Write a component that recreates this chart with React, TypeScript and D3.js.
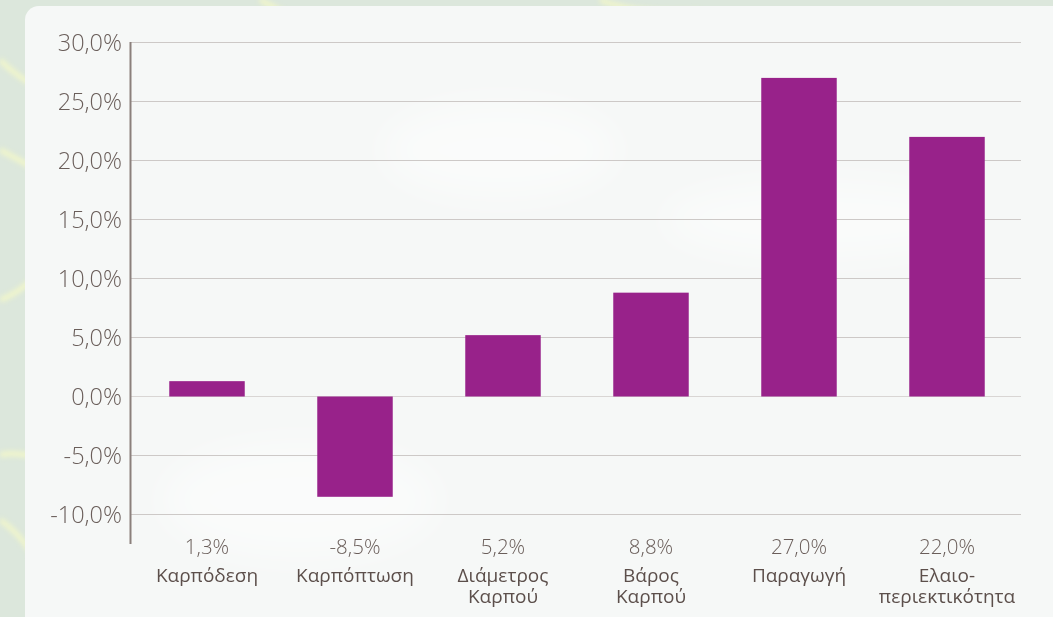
import React, { useEffect, useRef } from "react";
import * as d3 from "d3";

const categories: string[][] = [
  ["Καρπόδεση"],
  ["Καρπόπτωση"],
  ["Διάμετρος", "Καρπού"],
  ["Βάρος", "Καρπού"],
  ["Παραγωγή"],
  ["Ελαιο-", "περιεκτικότητα"],
];
const values: number[] = [1.3, -8.5, 5.2, 8.8, 27.0, 22.0];
const valueLabels: string[] = ["1,3%", "-8,5%", "5,2%", "8,8%", "27,0%", "22,0%"];
const yTicks: number[] = [-10, -5, 0, 5, 10, 15, 20, 25, 30];

const W = 1053;
const H = 617;

export default function App() {
  const ref = useRef<SVGSVGElement | null>(null);

  useEffect(() => {
    const svg = d3.select(ref.current);
    svg.selectAll("*").remove();

    const defs = svg.append("defs");
    const blur = defs.append("filter").attr("id", "blur").attr("x", "-50%").attr("y", "-50%").attr("width", "200%").attr("height", "200%");
    blur.append("feGaussianBlur").attr("stdDeviation", 2.5);
    const blur2 = defs.append("filter").attr("id", "blur2").attr("x", "-50%").attr("y", "-50%").attr("width", "200%").attr("height", "200%");
    blur2.append("feGaussianBlur").attr("stdDeviation", 18);

    // background
    svg.append("rect").attr("width", W).attr("height", H).attr("fill", "#dce7dc");
    const streaks = [
      "M0,150 C40,170 80,200 120,190",
      "M0,300 C30,290 60,250 90,230",
      "M0,455 C20,450 50,460 80,470",
      "M0,520 C30,540 50,580 60,617",
      "M260,0 C280,10 300,20 320,40",
      "M600,0 C620,8 650,14 700,12",
      "M0,60 C20,80 40,90 70,100",
    ];
    svg.append("g").attr("filter", "url(#blur)")
      .selectAll("path").data(streaks).join("path")
      .attr("d", (d) => d)
      .attr("fill", "none")
      .attr("stroke", "#f4f8c8")
      .attr("stroke-width", 5)
      .attr("opacity", 0.9);

    // panel
    svg.append("rect")
      .attr("x", 25).attr("y", 6)
      .attr("width", W).attr("height", H + 20)
      .attr("rx", 14)
      .attr("fill", "#f6f8f7");
    svg.append("g").attr("filter", "url(#blur2)")
      .selectAll("ellipse")
      .data([[300, 500, 140, 60], [820, 220, 160, 40], [500, 150, 120, 50]])
      .join("ellipse")
      .attr("cx", (d) => d[0]).attr("cy", (d) => d[1])
      .attr("rx", (d) => d[2]).attr("ry", (d) => d[3])
      .attr("fill", "#ffffff").attr("opacity", 0.45);

    const x = d3.scaleBand<number>()
      .domain(d3.range(values.length))
      .range([133, 1021])
      .paddingInner(0.49)
      .paddingOuter(0.245);
    const y = d3.scaleLinear().domain([-10, 30]).range([514.5, 42.5]);

    // gridlines
    svg.append("g")
      .selectAll("line").data(yTicks).join("line")
      .attr("x1", 131).attr("x2", 1021)
      .attr("y1", (d) => y(d)).attr("y2", (d) => y(d))
      .attr("stroke", (d) => (d === 0 ? "#d9d6d4" : "#cdc9c7"))
      .attr("stroke-width", 1.2);

    // axis line
    svg.append("line")
      .attr("x1", 130.5).attr("x2", 130.5)
      .attr("y1", 42).attr("y2", 544)
      .attr("stroke", "#8b807c").attr("stroke-width", 2);

    const font = "'Open Sans', 'Noto Sans', sans-serif";

    // y tick labels
    svg.append("g")
      .selectAll("text").data(yTicks).join("text")
      .attr("x", 122)
      .attr("y", (d) => y(d) + 8.5)
      .attr("text-anchor", "end")
      .attr("font-family", font)
      .attr("font-weight", 300)
      .attr("font-size", 23.5)
      .attr("fill", "#6a5e5a")
      .text((d) => d3.format(".1f")(d).replace(".", ",").replace("−", "-") + "%");

    // bars
    svg.append("g")
      .selectAll("rect").data(values).join("rect")
      .attr("x", (_, i) => x(i) as number)
      .attr("width", x.bandwidth())
      .attr("y", (d) => y(Math.max(0, d)))
      .attr("height", (d) => Math.abs(y(d) - y(0)))
      .attr("fill", "#98228a");

    // value labels
    svg.append("g")
      .selectAll("text").data(valueLabels).join("text")
      .attr("x", (_, i) => (x(i) as number) + x.bandwidth() / 2)
      .attr("y", 554)
      .attr("text-anchor", "middle")
      .attr("font-family", font)
      .attr("font-weight", 300)
      .attr("font-size", 20.5)
      .attr("fill", "#6a5e5a")
      .text((d) => d);

    // category labels (one text element per line)
    const cg = svg.append("g");
    categories.forEach((lines, i) => {
      const cx = (x(i) as number) + x.bandwidth() / 2;
      lines.forEach((l, j) => {
        cg.append("text")
          .attr("x", cx)
          .attr("y", 582 + j * 20.5)
          .attr("text-anchor", "middle")
          .attr("font-family", font)
          .attr("font-weight", 500)
          .attr("font-size", 19)
          .attr("fill", "#5c4f4b")
          .text(l);
      });
    });
  }, []);

  return (
    <div style={{ position: "fixed", left: 0, top: 0, width: W, height: H, overflow: "hidden" }}>
      <svg ref={ref} width={W} height={H} style={{ display: "block" }} />
    </div>
  );
}
